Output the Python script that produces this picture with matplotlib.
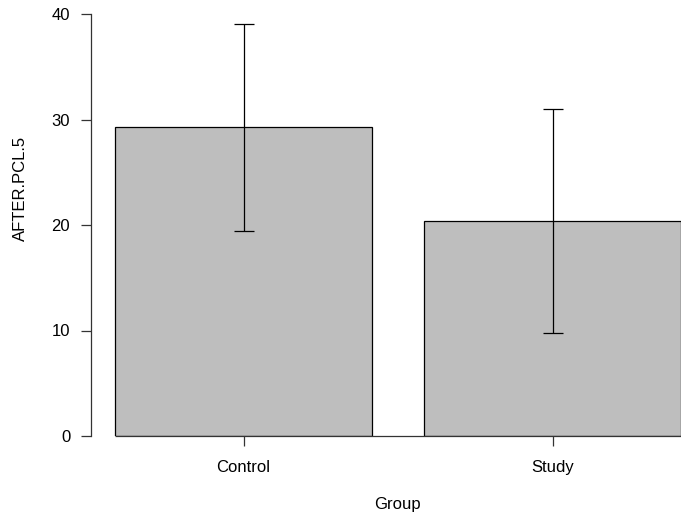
import matplotlib
matplotlib.use("Agg")
import matplotlib.pyplot as plt
import numpy as np

plt.rcParams['font.family'] = ['Liberation Sans', 'DejaVu Sans']

groups = ["Control", "Study"]
means = [29.26, 20.38]
sds = [9.83, 10.63]
ylabel = "AFTER.PCL.5"
xlabel = "Group"
yticks = [0, 10, 20, 30, 40]

W, H = 681, 515
fig = plt.figure(figsize=(W / 100, H / 100), dpi=100)
ax_left, ax_right, ax_top, ax_bottom = 91, 681, 14, 436
ax = fig.add_axes([ax_left / W, 1 - ax_bottom / H, (ax_right - ax_left) / W, (ax_bottom - ax_top) / H])

x = np.arange(len(groups))
width = 0.832
ax.bar(x, means, width=width, color="#bebebe", edgecolor="black", linewidth=0.9, zorder=2)
ax.errorbar(x, means, yerr=sds, fmt="none", ecolor="black", elinewidth=0.9, capsize=7.5, capthick=0.9, zorder=3, clip_on=False)

xmin = (ax_left - 243.5) / 309
xmax = (ax_right - 243.5) / 309
ax.set_xlim(xmin, xmax)
ax.set_ylim(0, 40)
ax.hlines(0, x[0] - width / 2, xmax, color="#333333", linewidth=0.9, zorder=4, clip_on=False)

for s in ["top", "right", "bottom"]:
    ax.spines[s].set_visible(False)
ax.spines["left"].set_color("#333333")
ax.spines["left"].set_linewidth(0.9)

ax.set_xticks(x)
ax.set_xticklabels(groups)
ax.set_yticks(yticks)
ax.tick_params(axis="both", direction="out", length=7, width=0.9, color="#333333", labelsize=12)
ax.tick_params(axis="x", pad=10)
ax.tick_params(axis="y", pad=8)

fig.text(20 / W, 1 - 188 / H, ylabel, rotation=90, ha="center", va="center", fontsize=12)
fig.text(397 / W, 1 - 505 / H, xlabel, ha="center", va="center", fontsize=12)

fig.savefig("out.png", dpi=100)
